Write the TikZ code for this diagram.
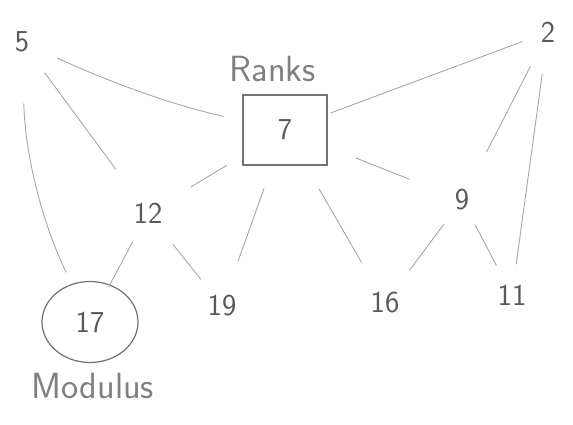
\documentclass[tikz,border=0pt]{standalone}
\usepackage{tikz}
\usetikzlibrary{shapes.geometric}

\begin{document}
\begin{tikzpicture}[
  num/.style={font=\LARGE\sffamily, text=black!65, inner sep=1pt},
  tag/.style={font=\huge\sffamily, text=black!50, inner sep=1pt},
  link/.style={draw=black!35, line width=0.5pt},
]
  \useasboundingbox (0,0) rectangle (11.46,8.48);
  % values
  \node[num] (n5)  at (0.44, 7.64) {5};
  \node[num] (n2)  at (10.96, 7.84) {2};
  \node[num, draw=black!55, line width=0.8pt, minimum width=1.68cm,
        minimum height=1.4cm] (n7) at (5.70, 5.88) {7};
  \node[num] (n12) at (2.96, 4.22) {12};
  \node[num] (n9)  at (9.24, 4.48) {9};
  \node[num] (n19) at (4.44, 2.36) {19};
  \node[num] (n16) at (7.70, 2.42) {16};
  \node[num] (n11) at (10.24, 2.58) {11};
  \node[num, ellipse, draw=black!55, line width=0.7pt, minimum width=1.92cm,
        minimum height=1.62cm] (n17) at (1.80, 2.04) {17};
  % captions
  \node[tag] (ranks)   at (5.45, 7.10) {Ranks};
  \node[tag] (modulus) at (1.86, 0.76) {Modulus};
  % links between values
  \draw[link, shorten <=0.77cm, shorten >=1.26cm] (n5.center) to[bend right=6] (n7.center);
  \draw[link, shorten <=0.76cm, shorten >=1.09cm] (n5.center) -- (n12.center);
  \draw[link, shorten <=1.23cm, shorten >=1.10cm] (n5.center) to[bend right=12] (n17.center);
  \foreach \a/\b/\s/\t in {n2/n7/0.54/0.97, n2/n9/0.77/1.08, n2/n11/0.85/0.62,
                          n7/n12/1.36/1.01, n7/n19/1.24/0.95, n7/n16/1.36/0.93,
                          n7/n9/1.52/1.13, n12/n17/0.65/0.79, n12/n19/0.79/0.68,
                          n9/n16/0.60/0.82, n9/n11/0.56/0.67}
    \draw[link, shorten <=\s cm, shorten >=\t cm] (\a.center) -- (\b.center);
\end{tikzpicture}
\end{document}
